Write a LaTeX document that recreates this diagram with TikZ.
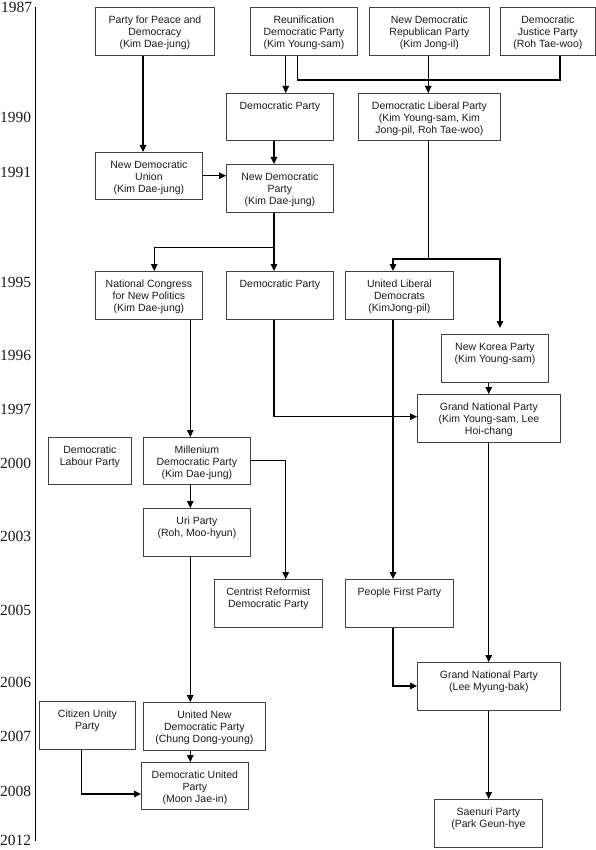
\documentclass[tikz,border=0pt]{standalone}
\usepackage{fontspec}
\setmainfont{Liberation Sans}
\newfontfamily\yearfont{Liberation Serif}
\usetikzlibrary{arrows.meta}
\definecolor{boxgray}{HTML}{404040}
\definecolor{txt}{HTML}{1A1A1A}
\tikzset{
  pbox/.style={draw=boxgray, line width=0.8pt, inner sep=0pt, anchor=north west, text=txt,
    font=\fontsize{10.5}{12.3}\selectfont},
  conn/.style={line width=1.2pt, draw=black},
  arr/.style={conn, -{Triangle[length=7pt,width=6.5pt]}},
  yr/.style={anchor=base west, inner sep=0pt, font=\yearfont\fontsize{15.5}{16}\selectfont, text=txt},
}
\newcommand\pbx[6]{\node[pbox] (#1) at (#2,#3) {\parbox[b][#5pt][t]{#4pt}{\centering\rule{0pt}{15.7pt}#6}};}
\begin{document}
\begin{tikzpicture}[x=1pt,y=-1pt]
\useasboundingbox (0,0) rectangle (596,850);
% timeline
\coordinate (tl1) at (35.5,7);
\coordinate (tl2) at (35.5,841);
\draw[line width=1.8pt] (tl1) -- (tl2);
\node[yr] (y1987) at (1,12.5) {1987};
\node[yr] (y1990) at (0,122.7) {1990};
\node[yr] (y1991) at (0,178) {1991};
\node[yr] (y1995) at (0,287) {1995};
\node[yr] (y1996) at (0,360) {1996};
\node[yr] (y1997) at (0,414) {1997};
\node[yr] (y2000) at (0,468.5) {2000};
\node[yr] (y2003) at (0,541.7) {2003};
\node[yr] (y2005) at (0,615) {2005};
\node[yr] (y2006) at (0,687.5) {2006};
\node[yr] (y2007) at (0,741.7) {2007};
\node[yr] (y2008) at (0,796.7) {2008};
\node[yr] (y2012) at (0,845) {2012};
% boxes
\pbx{ppd}{95}{7}{119}{48}{Party for Peace and\\Democracy\\(Kim Dae-jung)}
\pbx{rdp}{250}{7}{107}{48}{Reunification\\Democratic Party\\(Kim Young-sam)}
\pbx{ndrp}{369}{7}{120}{48}{New Democratic\\Republican Party\\(Kim Jong-il)}
\pbx{djp}{500}{7}{95}{48}{Democratic\\Justice Party\\(Roh Tae-woo)}
\pbx{dp90}{226}{93}{107}{47}{Democratic Party}
\pbx{dlp}{358}{93}{142}{47}{Democratic Liberal Party\\(Kim Young-sam, Kim\\Jong-pil, Roh Tae-woo)}
\pbx{ndu}{95}{152}{107}{47}{New Democratic\\Union\\(Kim Dae-jung)}
\pbx{ndp}{226}{164}{107}{48}{New Democratic\\Party\\(Kim Dae-jung)}
\pbx{ncnp}{95}{271}{107}{48}{National Congress\\for New Politics\\(Kim Dae-jung)}
\pbx{dp95}{226}{271}{107}{48}{Democratic Party}
\pbx{uld}{345}{271}{108}{48}{United Liberal\\Democrats\\(KimJong-pil)}
\pbx{nkp}{441}{334}{107}{48}{New Korea Party\\(Kim Young-sam)}
\pbx{gnpa}{417}{394}{143}{48}{Grand National Party\\(Kim Young-sam, Lee\\Hoi-chang}
\pbx{dlabp}{48}{437}{83}{47}{Democratic\\Labour Party}
\pbx{mdp}{143}{437}{107}{47}{Millenium\\Democratic Party\\(Kim Dae-jung)}
\pbx{uri}{143}{508}{107}{48}{Uri Party\\(Roh, Moo-hyun)}
\pbx{crdp}{214}{579}{108}{48}{Centrist Reformist\\Democratic Party}
\pbx{pfp}{345}{579}{108}{48}{People First Party}
\pbx{gnpb}{417}{662}{143}{48}{Grand National Party\\(Lee Myung-bak)}
\pbx{cup}{39}{701}{96}{48}{Citizen Unity\\Party}
\pbx{undp}{143}{702}{122}{48}{United New\\Democratic Party\\(Chung Dong-young)}
\pbx{dup}{141}{762}{107}{47}{Democratic United\\Party\\(Moon Jae-in)}
\pbx{sp}{434}{799}{108}{48}{Saenuri Party\\(Park Geun-hye}
% connectors
\draw[arr] (143,0 |- ppd.south) -- (143,0 |- ndu.north);
\draw[arr] (285.7,0 |- rdp.south) -- (285.7,0 |- dp90.north);
\coordinate (merge) at (560,80);
\draw[conn] (297.7,0 |- rdp.south) |- (merge) -- (560,0 |- djp.south);
\draw[arr] (428.3,0 |- ndrp.south) -- (428.3,0 |- dlp.north);
\draw[arr] (274,0 |- dp90.south) -- (274,0 |- ndp.north);
\draw[arr] (ndu.east |- 0,175.7) -- (ndp.west |- 0,175.7);
\coordinate (split1) at (274,247.3);
\draw[arr] (274,0 |- ndp.south) -- (274,0 |- dp95.north);
\draw[arr] (split1) -| (154.3,0 |- ncnp.north);
\coordinate (split2) at (428.3,259);
\draw[conn] (428.3,0 |- dlp.south) -- (split2);
\draw[arr] (split2) -| (393,0 |- uld.north);
\draw[arr,shorten >=6pt] (split2) -| (500,0 |- nkp.north);
\draw[arr] (488.7,0 |- nkp.south) -- (488.7,0 |- gnpa.north);
\draw[arr] (274,0 |- dp95.south) |- (gnpa.west |- 0,416.7);
\draw[arr] (190.3,0 |- ncnp.south) -- (190.3,0 |- mdp.north);
\draw[arr] (393,0 |- uld.south) -- (393,0 |- pfp.north);
\draw[arr] (190.3,0 |- mdp.south) -- (190.3,0 |- uri.north);
\draw[arr] (mdp.east |- 0,460.3) -| (285.7,0 |- crdp.north);
\draw[arr] (488.7,0 |- gnpa.south) -- (488.7,0 |- gnpb.north);
\draw[arr] (393,0 |- pfp.south) |- (gnpb.west |- 0,686);
\draw[arr] (190.3,0 |- uri.south) -- (190.3,0 |- undp.north);
\draw[arr] (190.3,0 |- undp.south) -- (190.3,0 |- dup.north);
\draw[arr] (81.7,0 |- cup.south) |- (dup.west |- 0,794);
\draw[arr] (488.7,0 |- gnpb.south) -- (488.7,0 |- sp.north);
\end{tikzpicture}
\end{document}
